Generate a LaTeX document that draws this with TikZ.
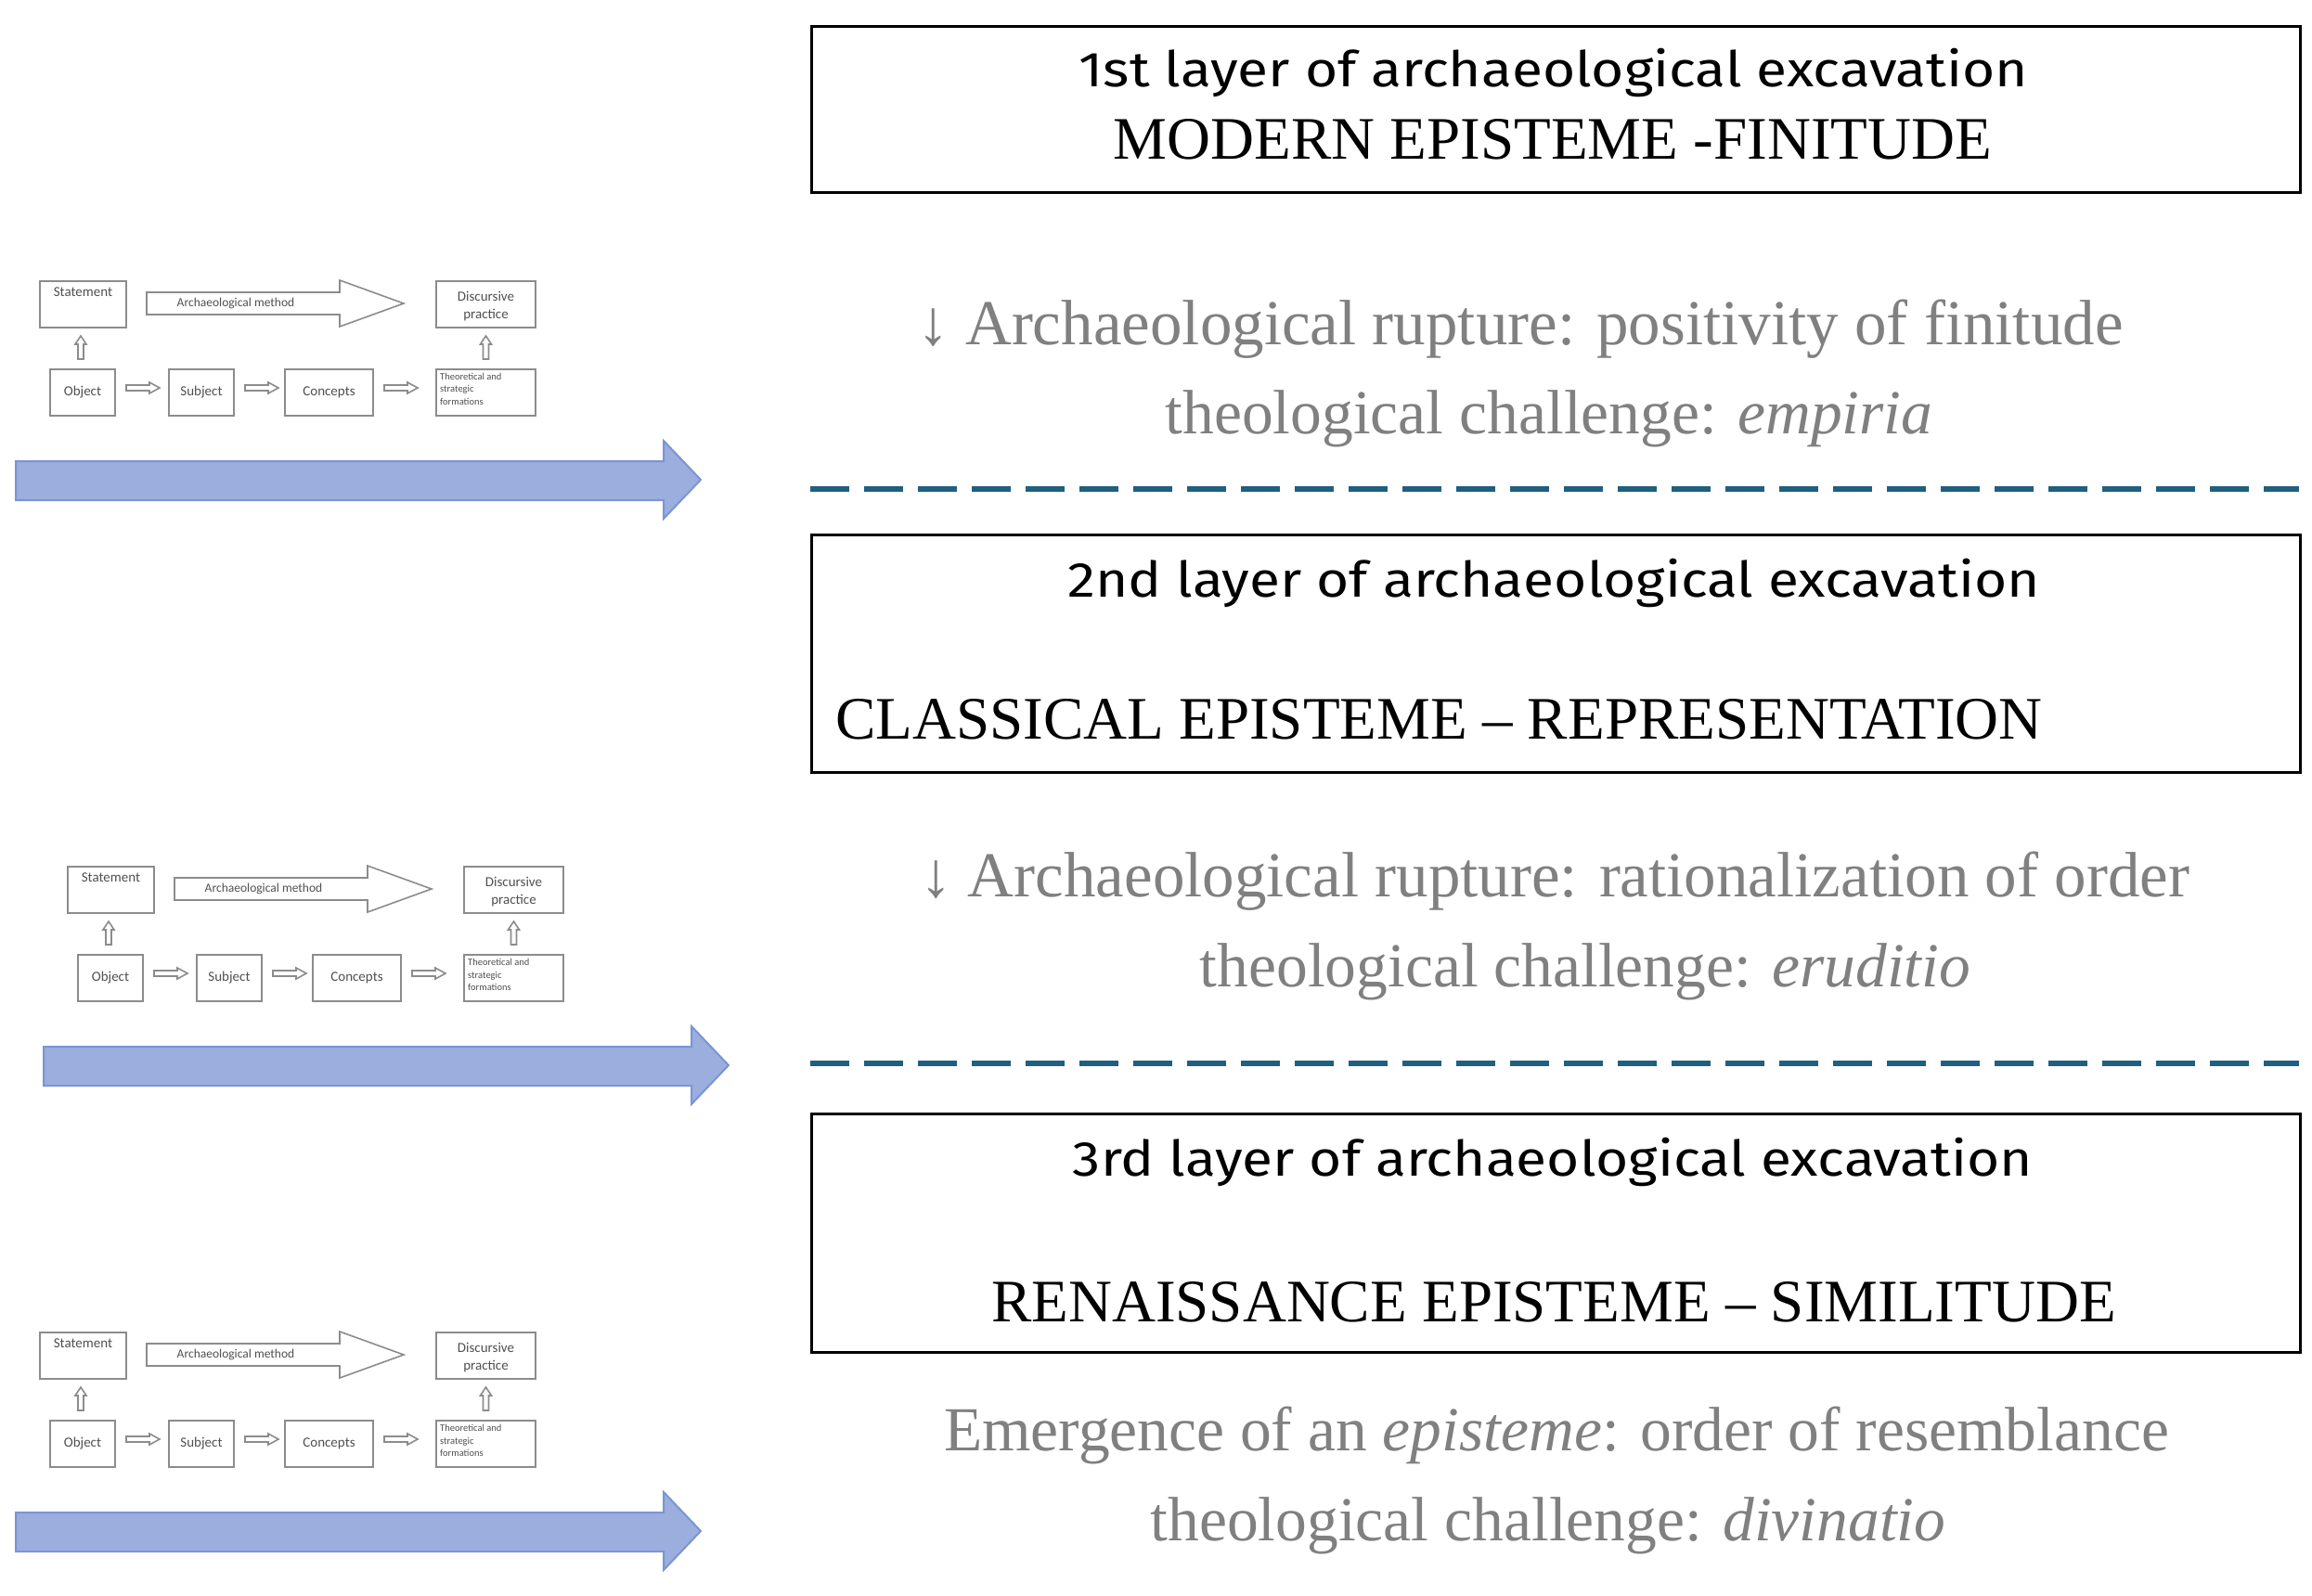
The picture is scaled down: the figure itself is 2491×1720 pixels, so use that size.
\documentclass[tikz,border=0pt]{standalone}
\usepackage{fontspec}
\setmainfont{Liberation Serif}
\newfontfamily\boxsans[FakeStretch=1.14]{Fira Sans}
\newfontfamily\tinysans{Carlito}
\usetikzlibrary{calc}
\definecolor{greytext}{HTML}{808080}
\definecolor{dashblue}{HTML}{1F5F80}
\definecolor{arrowfill}{HTML}{9BAEDD}
\definecolor{arrowline}{HTML}{7A95D4}
\definecolor{diagline}{HTML}{8C8C8C}
\definecolor{diagtext}{HTML}{505050}
\tikzset{
  layerbox/.style={draw=black, line width=3pt},
  sanshead/.style={font=\boxsans\fontsize{53}{60}\selectfont, anchor=base, inner sep=0pt},
  capsline/.style={font=\fontsize{65}{76}\selectfont, anchor=base, inner sep=0pt},
  greyline/.style={font=\fontsize{69}{80}\selectfont, text=greytext, anchor=base, inner sep=0pt},
  greylinesmall/.style={greyline, font=\fontsize{67.5}{80}\selectfont},
  dashsep/.style={draw=dashblue, line width=6pt, dash pattern=on 42pt off 16pt},
  smallbox/.style={draw=diagline, line width=2pt, fill=white, inner sep=0pt, anchor=north west},
  tinylabel/.style={font=\tinysans\fontsize{15}{19}\selectfont, text=diagtext, inner sep=0pt},
  microlabel/.style={font=\tinysans\fontsize{10.5}{13.5}\selectfont, text=diagtext, inner sep=0pt, align=left},
  blockarrow/.style={draw=diagline, line width=1.6pt, fill=white, line join=miter},
  bigarrow/.style={draw=arrowline, line width=2pt, fill=arrowfill, line join=miter},
}
\newcommand\rightblock[2]{%
  \draw[blockarrow] ($(#1.east)+(11,-8)$) -- ++(25,0) -- ++(0,-3) -- ++(11,6)
     -- ++(-11,6) -- ++(0,-3) -- ++(-25,0) -- cycle;
}
\newcommand\upblock[2]{%
  \draw[blockarrow] ($(#1.north)+({#2-3},-10)$) -- ++(0,-16) -- ++(-3,0) -- ++(6,-9)
     -- ++(6,9) -- ++(-3,0) -- ++(0,16) -- cycle;
}
\newcommand\layerdiagram[3]{%
  % boxes
  \node[smallbox, minimum width=93pt, minimum height=50pt] (#1st) at ({42+#2},{302+#3}) {};
  \node[tinylabel, anchor=north] (#1stt) at ($(#1st.north)+(0,8)$) {Statement};
  \node[smallbox, minimum width=107pt, minimum height=50pt] (#1dp) at ({469+#2},{302+#3}) {};
  \node[tinylabel, align=center, anchor=center] (#1dpt) at ($(#1dp.center)+(0,2)$) {Discursive\\practice};
  \node[smallbox, minimum width=70pt, minimum height=50pt] (#1ob) at ({53+#2},{397+#3}) {};
  \node[tinylabel] (#1obt) at (#1ob.center) {Object};
  \node[smallbox, minimum width=70pt, minimum height=50pt] (#1su) at ({181+#2},{397+#3}) {};
  \node[tinylabel] (#1sut) at (#1su.center) {Subject};
  \node[smallbox, minimum width=95pt, minimum height=50pt] (#1co) at ({306+#2},{397+#3}) {};
  \node[tinylabel] (#1cot) at (#1co.center) {Concepts};
  \node[smallbox, minimum width=107pt, minimum height=50pt] (#1th) at ({469+#2},{397+#3}) {};
  \node[microlabel, anchor=north west] (#1tht) at ($(#1th.north west)+(5,5)$) {Theoretical and\\strategic\\formations};
  % archaeological method arrow
  \draw[blockarrow] ({158+#2},{315+#3}) -- ({366+#2},{315+#3}) -- ({366+#2},{302+#3})
     -- ({435+#2},{327+#3}) -- ({366+#2},{352+#3}) -- ({366+#2},{339+#3})
     -- ({158+#2},{339+#3}) -- cycle;
  \node[tinylabel, font=\tinysans\fontsize{13.5}{15}\selectfont] (#1amt) at ({254+#2},{327+#3}) {Archaeological method};
  % right arrows
  \rightblock{#1ob}{#1su}
  \rightblock{#1su}{#1co}
  \rightblock{#1co}{#1th}
  % up arrows
  \upblock{#1ob}{-2}
  \upblock{#1th}{0}
  % big blue arrow
  \draw[bigarrow] ({17+#2},{497+#3}) -- ({715+#2},{497+#3}) -- ({715+#2},{475+#3})
     -- ({755+#2},{517+#3}) -- ({715+#2},{559+#3}) -- ({715+#2},{539+#3})
     -- ({17+#2},{539+#3}) -- cycle;
}
\begin{document}
\begin{tikzpicture}[x=1pt, y=-1pt]
  \useasboundingbox[fill=white] (0,0) rectangle (2491,1720);

  % left diagrams
  \layerdiagram{a}{0}{0}
  \layerdiagram{b}{30}{631}
  \layerdiagram{c}{0}{1133}

  % layer boxes
  \node[layerbox, minimum width=1604pt, minimum height=179pt, anchor=north west, inner sep=0pt] (box1) at (873,27) {};
  \node[layerbox, minimum width=1604pt, minimum height=256pt, anchor=north west, inner sep=0pt] (box2) at (873,575) {};
  \node[layerbox, minimum width=1604pt, minimum height=257pt, anchor=north west, inner sep=0pt] (box3) at (873,1199) {};

  \node[sanshead] (l1a) at (1674,94) {1st layer of archaeological excavation};
  \node[capsline] (l1b) at (1673,172) {MODERN EPISTEME -FINITUDE};
  \node[sanshead] (l2a) at (1674,643) {2nd layer of archaeological excavation};
  \node[capsline, anchor=base west] (l2b) at (900,796) {CLASSICAL EPISTEME – REPRESENTATION};
  \node[sanshead] (l3a) at (1673,1267) {3rd layer of archaeological excavation};
  \node[capsline] (l3b) at (1674,1424) {RENAISSANCE EPISTEME – SIMILITUDE};

  % grey texts
  \node[greyline] (g1a) at (1638,371) {↓ Archaeological rupture: positivity of finitude};
  \node[greylinesmall] (g1b) at (1669,467) {theological challenge: \textit{empiria}};
  \node[greyline] (g2a) at (1675,966) {↓ Archaeological rupture: rationalization of order};
  \node[greylinesmall] (g2b) at (1708,1063) {theological challenge: \textit{eruditio}};
  \node[greylinesmall] (g3a) at (1677,1563) {Emergence of an \textit{episteme}: order of resemblance};
  \node[greylinesmall] (g3b) at (1668,1660) {theological challenge: \textit{divinatio}};

  % dashed separators
  \coordinate (d1l) at (873,527);
  \coordinate (d1r) at (2477,527);
  \coordinate (d2l) at (873,1146);
  \coordinate (d2r) at (2477,1146);
  \draw[dashsep] (d1l) -- (d1r);
  \draw[dashsep] (d2l) -- (d2r);
\end{tikzpicture}
\end{document}
